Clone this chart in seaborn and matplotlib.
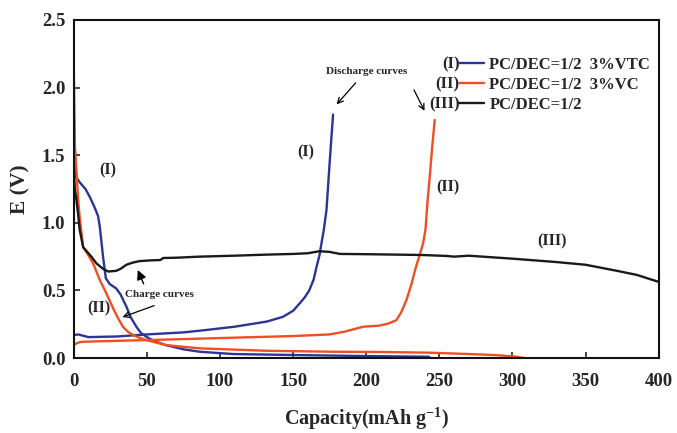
import pandas as pd
import matplotlib
matplotlib.use('Agg')
import matplotlib.pyplot as plt
import seaborn as sns

# Style
sns.set_style('ticks')
plt.rcParams['font.family'] = ['Liberation Serif', 'DejaVu Serif']
plt.rcParams['font.weight'] = 'bold'
plt.rcParams['mathtext.fontset'] = 'custom'
plt.rcParams['mathtext.rm'] = 'Liberation Serif:bold'
plt.rcParams['mathtext.bf'] = 'Liberation Serif:bold'
plt.rcParams['mathtext.default'] = 'bf'

BLUE = '#2b3595'
ORANGE = '#f04e23'
BLACK = '#1a1a1a'

# (I) PC/DEC=1/2 3%VTC
blue_chg_cap = [0, 0.5, 1.5, 4, 8, 11, 14, 16.6, 17.8, 20, 21.9, 24.6, 29, 32, 36, 39,
                42.9, 46, 49.7, 55, 63, 75, 86, 109, 154, 200, 243]
blue_chg_v = [2.14, 1.6, 1.34, 1.30, 1.25, 1.19, 1.12, 1.05, 0.97, 0.75, 0.59, 0.547, 0.515,
              0.47, 0.38, 0.30, 0.23, 0.185, 0.157, 0.125, 0.096, 0.065, 0.047, 0.03, 0.022,
              0.015, 0.01]
blue_dis_cap = [0, 3, 10, 30, 50, 75, 90, 110, 132, 143, 150, 154.5, 158, 161, 164, 166,
                168, 169.4, 171, 172.8, 175, 177.3]
blue_dis_v = [0.17, 0.175, 0.155, 0.16, 0.175, 0.19, 0.207, 0.232, 0.27, 0.305, 0.35, 0.405,
              0.45, 0.50, 0.58, 0.675, 0.76, 0.85, 0.95, 1.095, 1.45, 1.8]

# (II) PC/DEC=1/2 3%VC
orange_chg_cap = [0, 0.8, 2, 3, 4, 6.4, 10, 13.2, 17.8, 22.3, 26.9, 30, 33.7, 37, 40.5, 45,
                  49.7, 63, 86, 132, 177.6, 210, 243, 270, 289, 302.7, 308.4]
orange_chg_v = [1.81, 1.56, 1.35, 1.17, 1.045, 0.82, 0.76, 0.70, 0.577, 0.478, 0.368, 0.30,
                0.23, 0.195, 0.17, 0.15, 0.133, 0.096, 0.072, 0.054, 0.047, 0.045, 0.04, 0.03,
                0.022, 0.01, 0.0]
orange_dis_cap = [0, 2, 5, 20, 50, 100, 150, 175, 185, 198, 209, 215, 220.6, 224, 227.5, 231,
                  234, 236.5, 238.9, 240.5, 242, 243.5, 245, 246.8]
orange_dis_v = [0.095, 0.11, 0.12, 0.125, 0.133, 0.148, 0.163, 0.175, 0.195, 0.232, 0.24,
                0.255, 0.28, 0.34, 0.43, 0.55, 0.675, 0.76, 0.85, 0.95, 1.17, 1.35, 1.55, 1.76]

# (III) PC/DEC=1/2
black_cap = [0, 0.7, 1.8, 3, 4, 6.4, 8, 12, 15.5, 20, 23.5, 29, 32, 36, 40, 45, 52, 59, 60,
             61, 70, 86, 110, 132, 150, 160, 168, 175, 182, 200, 220, 238.6, 255, 260, 266,
             270, 300, 330, 350, 371, 385, 399.5]
black_v = [1.40, 1.25, 1.17, 1.06, 0.95, 0.82, 0.80, 0.75, 0.70, 0.66, 0.64, 0.645, 0.66,
           0.69, 0.705, 0.717, 0.722, 0.725, 0.73, 0.74, 0.742, 0.75, 0.757, 0.765, 0.77,
           0.775, 0.79, 0.785, 0.77, 0.768, 0.765, 0.762, 0.755, 0.75, 0.754, 0.757, 0.735,
           0.71, 0.69, 0.646, 0.615, 0.565]

legend_labels = ['PC/DEC=1/2  3%VTC', 'PC/DEC=1/2  3%VC', 'PC/DEC=1/2']
legend_tags = ['(I)', '(II)', '(III)']

fig = plt.figure(figsize=(6.77, 4.33), dpi=100)
ax = fig.add_axes([0.109, 0.173, 0.864, 0.781])

curves = [
    (blue_chg_cap, blue_chg_v, BLUE, legend_labels[0]),
    (blue_dis_cap, blue_dis_v, BLUE, None),
    (orange_chg_cap, orange_chg_v, ORANGE, legend_labels[1]),
    (orange_dis_cap, orange_dis_v, ORANGE, None),
    (black_cap, black_v, BLACK, legend_labels[2]),
]
for cap, v, col, lab in curves:
    df = pd.DataFrame({'cap': cap, 'v': v})
    sns.lineplot(data=df, x='cap', y='v', sort=False, estimator=None, color=col,
                 linewidth=1.7, label=lab, ax=ax)

ax.set_xlim(0, 400)
ax.set_ylim(0, 2.5)
ax.set_xticks(range(0, 401, 50))
ax.set_yticks([0, 0.5, 1.0, 1.5, 2.0, 2.5])
ax.yaxis.set_major_formatter(matplotlib.ticker.FormatStrFormatter('%.1f'))
ax.tick_params(direction='in', length=4, width=1.2, labelsize=13.5)
ax.tick_params(axis='x', pad=11)
ax.tick_params(axis='y', pad=6)
for lbl in ax.get_xticklabels() + ax.get_yticklabels():
    lbl.set_fontweight('bold')
for sp in ax.spines.values():
    sp.set_linewidth(1.5)
    sp.set_color('#111111')

ax.set_xlabel('Capacity(mAh g$^{-1}$)', fontsize=14.5, fontweight='bold', labelpad=11)
ax.set_ylabel('E (V)', fontsize=15.5, fontweight='bold', labelpad=8)

leg = ax.legend(loc='upper left', bbox_to_anchor=(0.645, 0.915), frameon=False,
                fontsize=12, handlelength=1.5, handletextpad=0.3, labelspacing=0.25,
                borderpad=0)
for t in leg.get_texts():
    t.set_fontweight('bold')
for i, tag in enumerate(legend_tags):
    ax.text(0.66, 0.868 - i * 0.059, tag, transform=ax.transAxes, ha='right', va='center',
            fontsize=12, fontweight='bold')

# curve tags
ax.text(23, 1.39, '(I)', fontsize=11.5, fontweight='bold', ha='center', va='center')
ax.text(17, 0.37, '(II)', fontsize=11.5, fontweight='bold', ha='center', va='center')
ax.text(158.5, 1.52, '(I)', fontsize=11.5, fontweight='bold', ha='center', va='center')
ax.text(256, 1.26, '(II)', fontsize=11.5, fontweight='bold', ha='center', va='center')
ax.text(327, 0.86, '(III)', fontsize=11.5, fontweight='bold', ha='center', va='center')

# annotations
ax.text(200, 2.12, 'Discharge curves', fontsize=8, fontweight='bold', ha='center', va='center')
ax.annotate('', xy=(178.5, 1.86), xytext=(194, 2.05),
            arrowprops=dict(arrowstyle='->', color='black', lw=0.9))
ax.annotate('', xy=(240.7, 1.81), xytext=(231.8, 2.0),
            arrowprops=dict(arrowstyle='->', color='black', lw=0.9))
ax.text(58.5, 0.47, 'Charge curves', fontsize=8, fontweight='bold', ha='center', va='center')
ax.annotate('', xy=(43, 0.67), xytext=(48.5, 0.53),
            arrowprops=dict(arrowstyle='-|>', color='black', lw=1.0, mutation_scale=14))
ax.annotate('', xy=(31.5, 0.296), xytext=(56.8, 0.395),
            arrowprops=dict(arrowstyle='->', color='black', lw=0.9))

fig.savefig('out.png', dpi=100)
